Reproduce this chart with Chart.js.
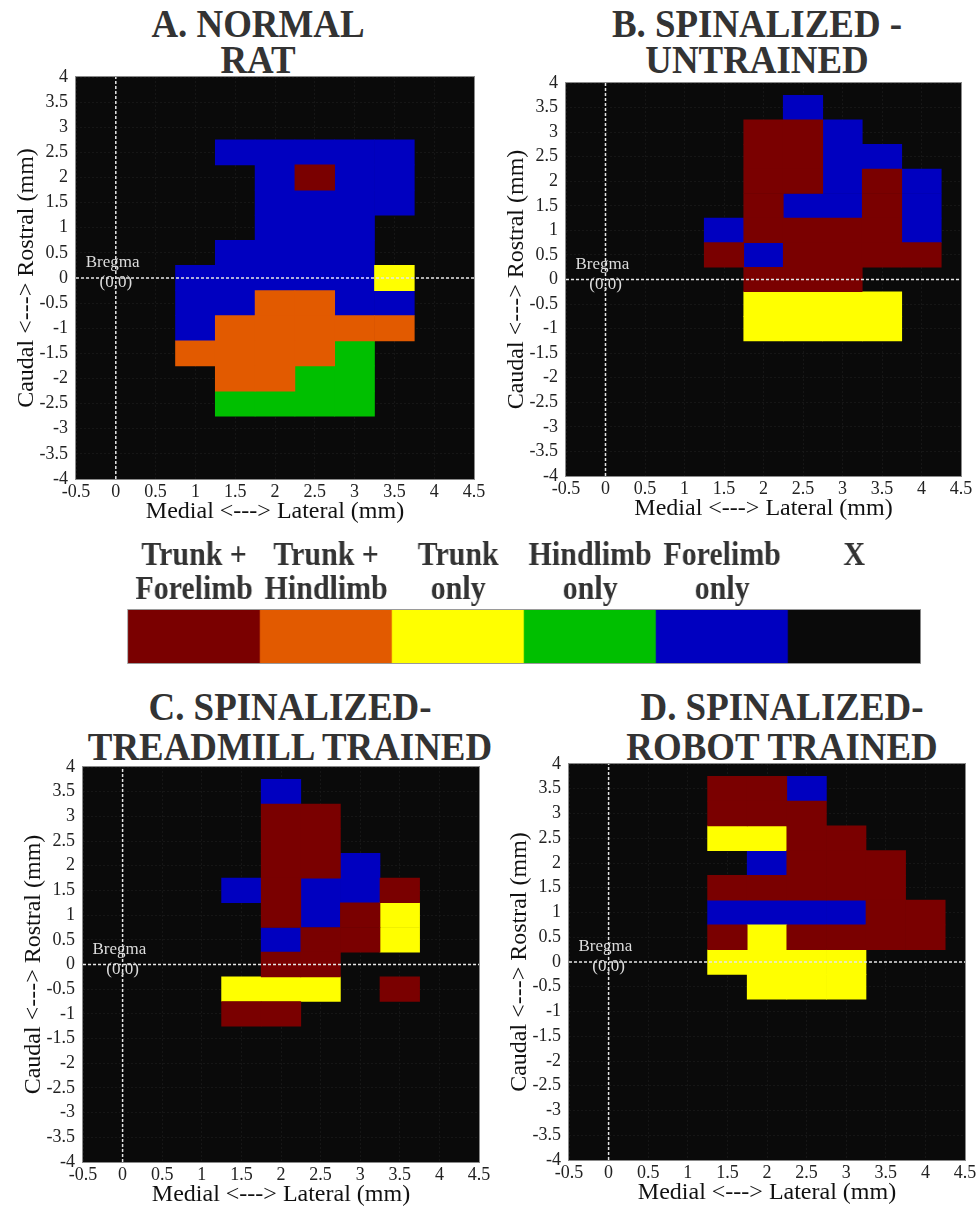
<!DOCTYPE html>
<html>
<head>
<meta charset="utf-8">
<script src="https://cdn.jsdelivr.net/npm/chart.js@4.4.1/dist/chart.umd.min.js"></script>
<style>
  body { margin: 0; background: #fff; width: 976px; height: 1207px; position: relative; overflow: hidden; }
  canvas { position: absolute; }
  .title { position: absolute; width: 460px; text-align: center; white-space: nowrap;
           font-family: 'Liberation Serif', 'Times New Roman', serif; font-weight: bold;
           font-size: 41px; color: #333; transform: scaleX(0.9); }
  #legend { transform: scaleX(0.88); transform-origin: 0 0; }
</style>
</head>
<body>
<div class="title" style="left:28px;top:5px;line-height:36px">A. NORMAL<br>RAT</div>
<div class="title" style="left:527px;top:5px;line-height:36px">B. SPINALIZED -<br>UNTRAINED</div>
<div class="title" style="left:60px;top:686px;line-height:40px">C. SPINALIZED-<br>TREADMILL TRAINED</div>
<div class="title" style="left:552px;top:686px;line-height:40px">D. SPINALIZED-<br>ROBOT TRAINED</div>

<canvas id="panelA" width="494" height="481" style="left:0px;top:58px"></canvas>
<canvas id="panelB" width="491" height="472" style="left:490px;top:64px"></canvas>
<canvas id="panelC" width="492" height="474" style="left:7px;top:748px"></canvas>
<canvas id="panelD" width="492" height="475" style="left:493px;top:745px"></canvas>
<canvas id="legend" width="966" height="142" style="left:100px;top:528px"></canvas>

<script>
// cell centres (mm)
const X_CENTERS = [1, 1.5, 2, 2.5, 3, 3.5, 4];
const Y_CENTERS = [3.5, 3, 2.5, 2, 1.5, 1, 0.5, 0, -0.5, -1, -1.5, -2, -2.5];

// response categories
const CATEGORY_CODES = ['F', 'H', 'T', 'L', 'B', 'X'];
const CATEGORY_LABELS = [['Trunk +', 'Forelimb'], ['Trunk +', 'Hindlimb'], ['Trunk', 'only'],
                         ['Hindlimb', 'only'], ['Forelimb', 'only'], ['X']];
const CATEGORY_COLORS = ['#7a0000', '#e25a00', '#ffff00', '#00bf00', '#0000c0', '#0a0a0a'];
const LEGEND_VALUES = [1, 1, 1, 1, 1, 1];

const X_RANGE = [-0.5, 4.5];
const Y_RANGE = [-4, 4];
const TICK_STEP = 0.5;

// one row per Y_CENTERS entry, one letter per X_CENTERS entry ('.' = X)
const GRID_A = [
  '.......',
  '.......',
  '.BBBBB.',
  '..BFBB.',
  '..BBBB.',
  '..BBB..',
  '.BBBB..',
  'BBBBBT.',
  'BBHHBB.',
  'BHHHHH.',
  'HHHHL..',
  '.HHLL..',
  '.LLLL..'
];
const GRID_B = [
  '...B...',
  '..FFB..',
  '..FFBB.',
  '..FFBFB',
  '..FBBFB',
  '.BFFFFB',
  '.FBFFFF',
  '..FFF..',
  '..TTTT.',
  '..TTTT.',
  '.......',
  '.......',
  '.......'
];
const GRID_C = [
  '..B....',
  '..FF...',
  '..FF...',
  '..FFB..',
  '.BFBBF.',
  '..FBFT.',
  '..BFFT.',
  '..FF...',
  '.TTT.F.',
  '.FF....',
  '.......',
  '.......',
  '.......'
];
const GRID_D = [
  '.FFB...',
  '.FFF...',
  '.TTFF..',
  '..BFFF.',
  '.FFFFF.',
  '.BBBBFF',
  '.FTFFFF',
  '.TTTT..',
  '..TTT..',
  '.......',
  '.......',
  '.......',
  '.......'
];

const FONT = "'Liberation Serif', 'Times New Roman', serif";
const HALF = (X_CENTERS[1] - X_CENTERS[0]) / 2;

function cellsFor(grid, code) {
  const out = [];
  grid.forEach((row, r) => {
    for (let c = 0; c < row.length; c++) {
      if (row[c] === code) {
        out.push({ x: [X_CENTERS[c] - HALF, X_CENTERS[c] + HALF], y: Y_CENTERS[r] });
      }
    }
  });
  return out;
}

// black plot background and thin frame
const plotFrame = {
  id: 'plotFrame',
  beforeDraw(chart) {
    const { ctx, chartArea: a } = chart;
    ctx.save();
    ctx.fillStyle = CATEGORY_COLORS[5];
    ctx.fillRect(a.left, a.top, a.width, a.height);
    ctx.restore();
  },
  afterDraw(chart) {
    const { ctx, chartArea: a } = chart;
    ctx.save();
    ctx.strokeStyle = '#8a8a8a';
    ctx.lineWidth = 1;
    ctx.strokeRect(a.left - 0.5, a.top - 0.5, a.width + 1, a.height + 1);
    ctx.restore();
  }
};

// "Bregma (0,0)" note next to the origin
const bregmaNote = {
  id: 'bregmaNote',
  afterDatasetsDraw(chart) {
    const { ctx, scales: { x, y } } = chart;
    ctx.save();
    ctx.font = '17px ' + FONT;
    ctx.fillStyle = '#dcdcdc';
    ctx.textAlign = 'center';
    ctx.textBaseline = 'middle';
    ctx.fillText('Bregma', x.getPixelForValue(-0.04), y.getPixelForValue(0.31));
    ctx.fillText('(0,0)', x.getPixelForValue(0), y.getPixelForValue(-0.1));
    ctx.restore();
  }
};

function makePanel(id, grid) {
  const datasets = [
    { type: 'line', data: [{ x: 0, y: Y_RANGE[0] }, { x: 0, y: Y_RANGE[1] }],
      borderColor: '#e6e6e6', borderWidth: 1.5, borderDash: [3, 2], pointRadius: 0, order: -1 },
    { type: 'line', data: [{ x: X_RANGE[0], y: 0 }, { x: X_RANGE[1], y: 0 }],
      borderColor: '#e6e6e6', borderWidth: 1.5, borderDash: [3, 2], pointRadius: 0, order: -1 }
  ];
  CATEGORY_CODES.slice(0, 5).forEach((code, i) => {
    datasets.push({
      type: 'bar',
      label: CATEGORY_LABELS[i].join(' '),
      data: cellsFor(grid, code),
      backgroundColor: CATEGORY_COLORS[i],
      borderWidth: 0,
      grouped: false,
      barPercentage: 1,
      categoryPercentage: 1
    });
  });

  return new Chart(document.getElementById(id), {
    type: 'bar',
    data: { datasets },
    options: {
      indexAxis: 'y',
      responsive: false,
      animation: false,
      layout: { padding: { top: 19, right: 20, left: 0, bottom: 0 } },
      plugins: { legend: { display: false }, tooltip: { enabled: false } },
      scales: {
        x: {
          type: 'linear', min: X_RANGE[0], max: X_RANGE[1], z: 1, offset: false,
          ticks: { stepSize: TICK_STEP, autoSkip: false, maxRotation: 0, padding: 2,
                   color: '#222', font: { family: FONT, size: 18 }, callback: v => String(v) },
          grid: { color: 'rgba(25,25,25,0.85)', lineWidth: 1, drawTicks: false, offset: false },
          border: { display: false, dash: [2, 2] },
          title: { display: true, text: 'Medial <---> Lateral (mm)', color: '#111',
                   font: { family: FONT, size: 24 }, padding: { top: 0, bottom: 13 } },
          afterFit: s => { s.height = 60; }
        },
        y: {
          type: 'linear', min: Y_RANGE[0], max: Y_RANGE[1], z: 1, offset: false,
          ticks: { stepSize: TICK_STEP, autoSkip: false, padding: 8,
                   color: '#222', font: { family: FONT, size: 18 }, callback: v => String(v) },
          grid: { color: 'rgba(25,25,25,0.85)', lineWidth: 1, drawTicks: false, offset: false },
          border: { display: false, dash: [2, 2] },
          title: { display: true, text: 'Caudal <---> Rostral (mm)', color: '#111',
                   font: { family: FONT, size: 24 }, padding: { top: 12, bottom: 0 } },
          afterFit: s => { s.width = 76; }
        }
      }
    },
    plugins: [plotFrame, bregmaNote]
  });
}

makePanel('panelA', GRID_A);
makePanel('panelB', GRID_B);
makePanel('panelC', GRID_C);
makePanel('panelD', GRID_D);

// colour key (canvas is condensed horizontally by CSS, like the narrow bold labels)
new Chart(document.getElementById('legend'), {
  type: 'bar',
  data: {
    labels: CATEGORY_LABELS,
    datasets: [{ data: LEGEND_VALUES, backgroundColor: CATEGORY_COLORS, borderWidth: 0,
                 barPercentage: 1, categoryPercentage: 1 }]
  },
  options: {
    responsive: false,
    animation: false,
    layout: { padding: { top: 0, right: 34, left: 32, bottom: 7 } },
    plugins: { legend: { display: false }, tooltip: { enabled: false } },
    scales: {
      x: {
        position: 'top',
        grid: { display: false, drawTicks: false },
        border: { display: false },
        ticks: { padding: 3, crossAlign: 'far', autoSkip: false, maxRotation: 0, color: '#333',
                 font: { family: FONT, size: 34, weight: 'bold', lineHeight: 1.0 } },
        afterFit: s => { s.height = 82; }
      },
      y: { display: false, min: 0, max: 1 }
    }
  },
  plugins: [{
    id: 'keyFrame',
    afterDraw(chart) {
      const { ctx, chartArea: a } = chart;
      ctx.save();
      ctx.strokeStyle = '#9a9a9a';
      ctx.strokeRect(a.left - 0.5, a.top - 0.5, a.width + 1, a.height + 1);
      ctx.restore();
    }
  }]
});
</script>
</body>
</html>
